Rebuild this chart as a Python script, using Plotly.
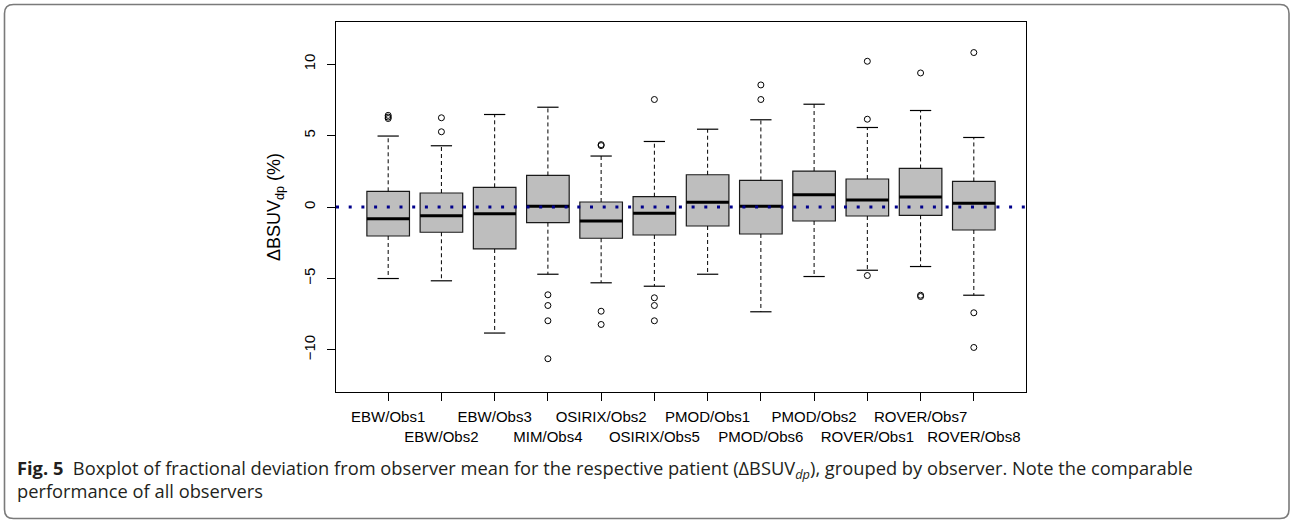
import plotly.graph_objects as go

categories = ["EBW/Obs1", "EBW/Obs2", "EBW/Obs3", "MIM/Obs4", "OSIRIX/Obs2", "OSIRIX/Obs5",
              "PMOD/Obs1", "PMOD/Obs6", "PMOD/Obs2", "ROVER/Obs1", "ROVER/Obs7", "ROVER/Obs8"]
lower_whisker = [-5.01, -5.17, -8.83, -4.71, -5.31, -5.55, -4.71, -7.34, -4.87, -4.43, -4.17, -6.18]
q1 = [-2.03, -1.77, -2.94, -1.10, -2.19, -1.96, -1.33, -1.89, -0.98, -0.63, -0.58, -1.61]
median = [-0.82, -0.61, -0.47, 0.05, -0.98, -0.44, 0.33, 0.05, 0.86, 0.49, 0.70, 0.26]
q3 = [1.10, 0.98, 1.38, 2.21, 0.35, 0.72, 2.26, 1.86, 2.52, 1.96, 2.70, 1.79]
upper_whisker = [4.97, 4.29, 6.48, 6.99, 3.57, 4.59, 5.45, 6.11, 7.20, 5.57, 6.76, 4.87]
outliers = [
    [6.2, 6.3, 6.42],
    [5.27, 6.25],
    [],
    [-6.15, -6.90, -7.97, -10.63],
    [4.30, 4.37, -7.30, -8.23],
    [7.53, -6.36, -6.90, -7.97],
    [],
    [8.55, 7.53],
    [],
    [10.21, 6.15, -4.80],
    [9.39, -6.18, -6.27],
    [10.82, -7.41, -9.84],
]
y_ticks = [-10, -5, 0, 5, 10]
reference_value = 0

pos = list(range(1, len(categories) + 1))
BOX_W = 0.8
CAP_W = 0.4

fig = go.Figure()

# Boxes (whiskers drawn separately, dashed as in R)
fig.add_trace(go.Box(
    x=pos, q1=q1, median=median, q3=q3, lowerfence=q1, upperfence=q3,
    width=BOX_W, fillcolor="#BEBEBE", line=dict(color="#1a1a1a", width=1.2),
    boxpoints=False, showlegend=False, hoverinfo="skip"))

# Dashed whiskers
wx, wy = [], []
for p, a, b, c, d in zip(pos, lower_whisker, q1, q3, upper_whisker):
    wx += [p, p, None, p, p, None]
    wy += [c, d, None, b, a, None]
fig.add_trace(go.Scatter(x=wx, y=wy, mode="lines",
                         line=dict(color="black", width=1, dash="4px,3px"),
                         showlegend=False, hoverinfo="skip"))

# Whisker caps
cx, cy = [], []
for p, a, d in zip(pos, lower_whisker, upper_whisker):
    cx += [p - CAP_W / 2, p + CAP_W / 2, None, p - CAP_W / 2, p + CAP_W / 2, None]
    cy += [d, d, None, a, a, None]
fig.add_trace(go.Scatter(x=cx, y=cy, mode="lines", line=dict(color="black", width=1.2),
                         showlegend=False, hoverinfo="skip"))

# Thick medians
mx, my = [], []
for p, m in zip(pos, median):
    mx += [p - BOX_W / 2, p + BOX_W / 2, None]
    my += [m, m, None]
fig.add_trace(go.Scatter(x=mx, y=my, mode="lines", line=dict(color="black", width=3),
                         showlegend=False, hoverinfo="skip"))

# Outliers
ox, oy = [], []
for p, outs in zip(pos, outliers):
    for v in outs:
        ox.append(p)
        oy.append(v)
fig.add_trace(go.Scatter(x=ox, y=oy, mode="markers",
                         marker=dict(symbol="circle-open", size=6, color="black",
                                     line=dict(width=1, color="black")),
                         showlegend=False, hoverinfo="skip"))

# Dotted reference line at 0
fig.add_shape(type="line", xref="paper", x0=0, x1=1, yref="y", y0=reference_value, y1=reference_value,
              line=dict(color="#00008B", width=3, dash="3px,9.7px"), layer="above")

ticktext = [("<br>" + c) if i % 2 == 1 else c for i, c in enumerate(categories)]

L, T, W, H = 336, 22, 690, 370
FIG_W, FIG_H = 1291, 520


def px_x(px):
    return (px - L) / W


def px_y(py):
    return (T + H - py) / H


# Outer rounded frame
x0, x1, y0, y1 = px_x(4.5), px_x(1289), px_y(4.5), px_y(518.5)
rx, ry = 9 / W, 9 / H
path = (f"M {x0 + rx},{y0} L {x1 - rx},{y0} Q {x1},{y0} {x1},{y0 - ry} "
        f"L {x1},{y1 + ry} Q {x1},{y1} {x1 - rx},{y1} "
        f"L {x0 + rx},{y1} Q {x0},{y1} {x0},{y1 + ry} "
        f"L {x0},{y0 - ry} Q {x0},{y0} {x0 + rx},{y0} Z")
fig.add_shape(type="path", xref="paper", yref="paper", path=path,
              line=dict(color="#7a7a7a", width=1.6), layer="below")

axis_font = dict(family="Liberation Sans, Arial, sans-serif", size=15, color="black")

# Y title
fig.add_annotation(xref="paper", yref="paper", x=px_x(275), y=0.5, xanchor="center", yanchor="middle",
                   text="ΔBSUV<sub>dp</sub> (%)", textangle=-90, showarrow=False,
                   font=dict(family="Liberation Sans, Arial, sans-serif", size=18, color="black"))

cap_font = dict(family="Open Sans, sans-serif", size=18.3, color="#231f20")
fig.add_annotation(xref="paper", yref="paper", x=px_x(15), y=px_y(469), xanchor="left", yanchor="middle",
                   align="left", showarrow=False, font=cap_font,
                   text="<b>Fig. 5</b>  Boxplot of fractional deviation from observer mean for the respective "
                        "patient (ΔBSUV<sub><i>dp</i></sub>), grouped by observer. Note the comparable")
fig.add_annotation(xref="paper", yref="paper", x=px_x(15), y=px_y(490), xanchor="left", yanchor="middle",
                   align="left", showarrow=False, font=cap_font,
                   text="performance of all observers")

fig.update_layout(
    width=FIG_W, height=FIG_H,
    margin=dict(l=L, r=FIG_W - L - W, t=T, b=FIG_H - T - H, pad=0),
    paper_bgcolor="white", plot_bgcolor="white",
    showlegend=False,
    xaxis=dict(range=[0.02, 12.98], tickvals=pos, ticktext=ticktext, ticks="outside", ticklen=8,
               tickwidth=1, tickcolor="black", showgrid=False, zeroline=False, showline=True,
               linecolor="black", linewidth=1, mirror=True, tickfont=axis_font, tickangle=0,
               ticklabelstandoff=3),
    yaxis=dict(range=[-12.96, 12.96], tickvals=y_ticks, ticks="outside", ticklen=8, tickwidth=1,
               tickcolor="black", showgrid=False, zeroline=False, showline=True, linecolor="black",
               linewidth=1, mirror=True, tickfont=axis_font, tickangle=-90, ticklabelstandoff=6),
)

fig.write_html("out.html")
